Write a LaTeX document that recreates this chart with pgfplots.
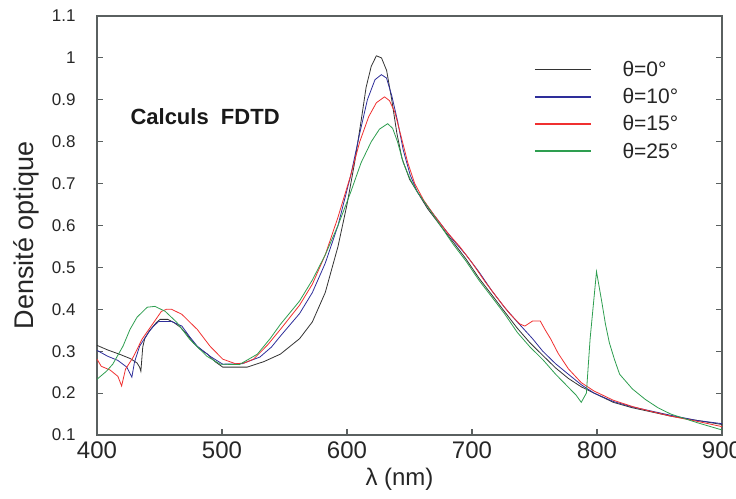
\documentclass[border=0pt]{standalone}
\usepackage{fontspec}
\setmainfont{Liberation Sans}
\usepackage{pgfplots}
\pgfplotsset{compat=1.18}
\definecolor{cblack}{HTML}{333333}
\definecolor{cblue}{HTML}{2E2E9A}
\definecolor{cred}{HTML}{F03030}
\definecolor{cgreen}{HTML}{2E9E50}
\definecolor{axgray}{HTML}{5A6060}
\begin{document}
\begin{tikzpicture}
\begin{axis}[
  scale only axis, width=625pt, height=419pt,
  xmin=400, xmax=900, ymin=0.1, ymax=1.1,
  xtick={400,500,...,900}, ytick={0.1,0.2,...,1.1},
  yticklabels={0.1,0.2,0.3,0.4,0.5,0.6,0.7,0.8,0.9,1,1.1},
  tick align=inside, major tick length=6pt,
  xtick pos=bottom, ytick pos=both,
  axis line style={axgray, line width=1.6pt},
  tick style={axgray, line width=1.2pt},
  /pgf/number format/assume math mode=true,
  xticklabel style={font=\fontsize{24}{28}\selectfont, color=black!85, yshift=-3pt},
  yticklabel style={font=\fontsize{17}{20}\selectfont, color=black!85, xshift=-18pt},
  xlabel={λ (nm)}, ylabel={Densité optique},
  xlabel style={font=\fontsize{24}{28}\selectfont, color=black!85, yshift=-3pt, xshift=-10pt},
  ylabel style={font=\fontsize{27}{30}\selectfont, color=black!85, yshift=6pt, xshift=-10pt},
  legend style={draw=none, fill=none, at={(axis cs:747,1.002)}, anchor=north west,
    font=\fontsize{21}{24}\selectfont, text=black!85, row sep=6.5pt,
    /tikz/every odd column/.style={column sep=29pt}},
  legend cell align=left,
  legend image code/.code={\draw[#1, line width=1.6pt] (0pt,0pt) -- (56pt,0pt);},
  clip=true,
]
\addplot[cblack, line width=0.8pt] coordinates {
(400,0.314)(408.5,0.303)(418.7,0.292)(426.9,0.282)(432.0,0.272)(434.1,0.262)(435.1,0.252)(436.6,0.31)(438.2,0.33)(442.3,0.35)(447.4,0.368)(450.5,0.376)(456.6,0.376)(461.7,0.368)(466.8,0.357)(472.0,0.34)(477.1,0.32)(482.2,0.305)(488.4,0.293)(494.5,0.275)(500.6,0.262)(510.9,0.262)(520.1,0.262)(533.4,0.275)(546.7,0.293)
(562.1,0.33)(572.3,0.37)(582.6,0.44)(592.8,0.55)(600.0,0.65)(606.1,0.75)(611.3,0.85)(615.3,0.93)(619.4,0.98)(623.5,1.005)(627.6,1.0)(631.7,0.97)(635.8,0.9)(639.9,0.82)(644.0,0.76)(650.1,0.71)(656.3,0.68)(664.5,0.64)(674.7,0.6)(685.0,0.56)(695.2,0.52)(705.4,0.475)(715.7,0.435)(725.9,0.395)(736.2,0.355)(746.4,0.32)(756.6,0.29)(766.9,0.26)(777.1,0.235)(787.4,0.215)(797.6,0.2)(813.0,0.178)(828.3,0.165)(843.7,0.155)(859.0,0.145)(879.5,0.135)(900,0.125)};
\addlegendentry{θ=0°}
\addplot[cblue, line width=0.8pt] coordinates {
(400,0.302)(408.5,0.288)(416.7,0.278)(423.8,0.262)(425.9,0.25)(427.9,0.238)(430.0,0.274)(434.1,0.312)(441.2,0.345)(445.3,0.36)(449.4,0.371)(459.7,0.371)(467.9,0.36)(474.0,0.335)(480.2,0.312)(490.4,0.288)(500.6,0.269)(516.0,0.27)(530.3,0.286)(539.6,0.31)(546.7,0.336)
(562.1,0.39)(572.3,0.44)(582.6,0.51)(592.8,0.6)(603.0,0.72)(610.2,0.82)(616.3,0.9)(622.4,0.948)(627.5,0.96)(631.6,0.952)(635.8,0.91)(640.4,0.85)(645.0,0.78)(650.6,0.72)(656.3,0.68)(664.5,0.645)(674.7,0.605)(685.0,0.565)(695.2,0.53)(705.4,0.49)(715.7,0.445)(725.9,0.405)(736.2,0.37)(748.4,0.33)(756.6,0.3)(766.9,0.27)(777.1,0.245)(787.4,0.22)(797.6,0.2)(813.0,0.18)(828.3,0.167)(843.7,0.157)(859.0,0.147)(879.5,0.135)(900,0.127)};
\addlegendentry{θ=10°}
\addplot[cred, line width=0.8pt] coordinates {
(400,0.281)(403.4,0.264)(410.5,0.255)(416.7,0.24)(419.7,0.217)(422.8,0.257)(429.0,0.286)(436.1,0.329)(444.3,0.364)(451.5,0.395)(455.6,0.4)(459.7,0.4)(467.9,0.388)(474.0,0.37)(480.2,0.352)(490.4,0.312)(500.6,0.281)(510.9,0.27)(518.0,0.272)(525.2,0.281)(536.5,0.315)(546.7,0.352)
(562.1,0.41)(572.3,0.46)(582.6,0.53)(592.8,0.62)(603.0,0.72)(610.2,0.8)(617.4,0.86)(623.5,0.893)(630.0,0.907)(634.0,0.898)(638.3,0.87)(643.5,0.81)(648.6,0.75)(654.2,0.7)(661.4,0.66)(669.6,0.625)(679.8,0.585)(690.1,0.55)(700.3,0.51)(710.6,0.465)(720.8,0.425)(730.0,0.39)(738.2,0.365)(742.3,0.36)(748.4,0.372)(754.6,0.372)(758.7,0.35)(762.8,0.33)(768.9,0.295)(777.1,0.258)(787.4,0.225)(797.6,0.205)(813.0,0.183)(828.3,0.168)(843.7,0.156)(859.0,0.145)(879.5,0.133)(900,0.12)};
\addlegendentry{θ=15°}
\addplot[cgreen, line width=0.8pt] coordinates {
(400,0.233)(407.5,0.252)(412.6,0.269)(420.8,0.312)(426.4,0.352)(432.0,0.381)(440.2,0.405)(446.4,0.407)(454.6,0.395)(463.8,0.369)(474.0,0.329)(487.9,0.288)(498.6,0.269)(513.9,0.268)(528.3,0.293)(538.5,0.33)(546.7,0.364)
(562.1,0.42)(572.3,0.47)(582.6,0.53)(592.8,0.6)(603.0,0.68)(611.3,0.75)(619.4,0.8)(626.0,0.83)(632.5,0.843)(636.5,0.832)(640.4,0.8)(645.0,0.75)(650.6,0.71)(656.3,0.68)(664.5,0.645)(674.7,0.6)(685.0,0.555)(695.2,0.515)(705.4,0.47)(715.7,0.43)(725.9,0.39)(736.2,0.345)(746.4,0.31)(756.6,0.28)(766.9,0.245)(776.1,0.217)(783.3,0.195)(787.4,0.178)(791.5,0.2)(794.5,0.33)(799.6,0.49)(803.7,0.42)(806.8,0.364)(809.9,0.32)(814.0,0.28)(818.1,0.245)(828.3,0.21)(838.6,0.185)(848.8,0.165)(859.0,0.15)(879.5,0.13)(900,0.112)};
\addlegendentry{θ=25°}
\node[anchor=west, font=\fontsize{22}{24}\selectfont\bfseries, text=black!90] at (axis cs:424,0.86) {Calculs\ \ FDTD};
\end{axis}
\pgfresetboundingbox
\path (-97pt,-63pt) rectangle (639pt,435pt);
\end{tikzpicture}
\end{document}
